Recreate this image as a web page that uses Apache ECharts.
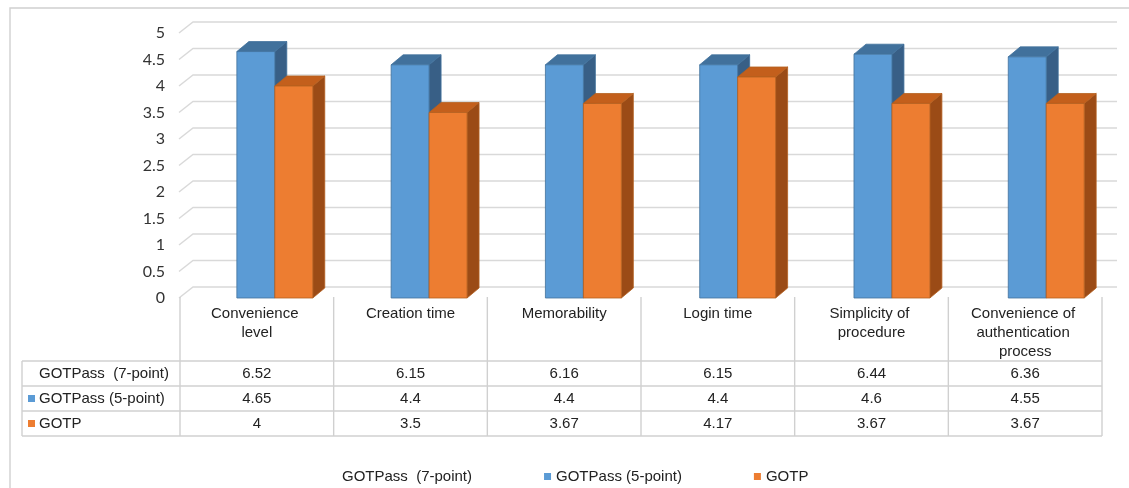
<!DOCTYPE html>
<html>
<head>
<meta charset="utf-8">
<title>GOTPass vs GOTP usability ratings</title>
<script src="https://cdn.jsdelivr.net/npm/echarts@6/dist/echarts.min.js"></script>
<style>
  html, body { margin: 0; padding: 0; background: #fff; }
  #chart { width: 1129px; height: 488px; }
</style>
</head>
<body>
<div id="chart"></div>
<script>
// Usability criteria (one column each)
const categories = [
  'Convenience level',
  'Creation time',
  'Memorability',
  'Login time',
  'Simplicity of procedure',
  'Convenience of authentication process'
];

// Mean ratings per scheme
const gotpass7 = [6.52, 6.15, 6.16, 6.15, 6.44, 6.36];
const gotpass5 = [4.65, 4.4, 4.4, 4.4, 4.6, 4.55];
const gotp = [4, 3.5, 3.67, 4.17, 3.67, 3.67];

// Value-axis ticks drawn on the back wall
const yTicks = [0, 0.5, 1, 1.5, 2, 2.5, 3, 3.5, 4, 4.5, 5];

const seriesNames = ['GOTPass  (7-point)', 'GOTPass (5-point)', 'GOTP'];
const tableRows = [gotpass7, gotpass5, gotp];

const BLUE = { front: '#5B9BD5', top: '#41719C', side: '#385F86', edge: '#41719C' };
const ORANGE = { front: '#ED7D31', top: '#C35F1C', side: '#9B4B16', edge: '#B4601F' };
const GRID_COLOR = '#D9D9D9';
const TABLE_COLOR = '#D0D0D0';
const TEXT_FONT = '"Liberation Sans", Arial, sans-serif';

// depth of the back wall and of each box
const WALL_DX = 14, WALL_DY = -11;
const BOX_DX = 12, BOX_DY = -10;

const chart = echarts.init(document.getElementById('chart'), null, { renderer: 'canvas' });

function renderWall(params, api) {
  const cs = params.coordSys;
  const y = api.coord([0, api.value(1)])[1];
  return {
    type: 'polyline',
    shape: {
      points: [
        [cs.x - 1, y],
        [cs.x + WALL_DX - 1, y + WALL_DY],
        [cs.x + cs.width + WALL_DX + 1, y + WALL_DY]
      ]
    },
    style: { stroke: GRID_COLOR, lineWidth: 1.4, fill: null },
    silent: true
  };
}

function makeBoxRenderer(slot, pal) {
  return function (params, api) {
    const i = api.value(0);
    const v = api.value(1);
    const base = api.coord([i, 0]);
    const top = api.coord([i, v]);
    const band = api.size([1, 0])[0];
    const w = band * 0.247;
    const pairCenter = base[0] + band * (0.117 + 0.004 * i);
    const x = slot === 0 ? pairCenter - w : pairCenter;
    const yt = top[1];
    const yb = base[1];
    const lw = 0.8;
    return {
      type: 'group',
      children: [
        {
          type: 'polygon',
          shape: { points: [[x + w, yt], [x + w + BOX_DX, yt + BOX_DY], [x + w + BOX_DX, yb + BOX_DY], [x + w, yb]] },
          style: { fill: pal.side, stroke: pal.edge, lineWidth: lw }
        },
        {
          type: 'polygon',
          shape: { points: [[x, yt], [x + BOX_DX, yt + BOX_DY], [x + w + BOX_DX, yt + BOX_DY], [x + w, yt]] },
          style: { fill: pal.top, stroke: pal.edge, lineWidth: lw }
        },
        {
          type: 'rect',
          shape: { x: x, y: yt, width: w, height: yb - yt },
          style: { fill: pal.front, stroke: pal.edge, lineWidth: lw }
        }
      ]
    };
  };
}

const option = {
  animation: false,
  backgroundColor: '#fff',
  grid: { left: 180, right: 27, top: 33, bottom: 190, containLabel: false },
  legend: {
    left: 325,
    top: 464,
    itemWidth: 7,
    itemHeight: 7,
    itemGap: 72,
    selectedMode: false,
    textStyle: { fontFamily: TEXT_FONT, fontSize: 15, color: '#222' },
    data: [
      { name: seriesNames[0], icon: 'none' },
      { name: seriesNames[1], icon: 'rect' },
      { name: seriesNames[2], icon: 'rect' }
    ]
  },
  xAxis: {
    type: 'category',
    data: categories,
    axisLine: { show: false },
    axisTick: { show: false },
    splitLine: { show: false },
    axisLabel: {
      interval: 0,
      margin: 6,
      width: 116,
      overflow: 'break',
      fontFamily: TEXT_FONT,
      fontSize: 15,
      lineHeight: 19,
      color: '#222',
      verticalAlign: 'top'
    }
  },
  yAxis: {
    type: 'value',
    min: 0,
    max: 5,
    interval: 0.5,
    axisLine: { show: false },
    axisTick: { show: false },
    splitLine: { show: false },
    axisLabel: {
      margin: 15,
      fontFamily: 'Lato, "Open Sans", sans-serif',
      fontSize: 16,
      color: '#333'
    }
  },
  series: [
    {
      name: 'wall',
      type: 'custom',
      z: 1,
      silent: true,
      renderItem: renderWall,
      data: yTicks.map(function (t) { return [0, t]; })
    },
    {
      // 7-point ratings are listed in the table only
      name: seriesNames[0],
      type: 'custom',
      itemStyle: { color: '#fff' },
      renderItem: function () { return null; },
      data: gotpass7.map(function (v, i) { return [i, v]; })
    },
    {
      name: seriesNames[1],
      type: 'custom',
      z: 3,
      itemStyle: { color: BLUE.front },
      renderItem: makeBoxRenderer(0, BLUE),
      data: gotpass5.map(function (v, i) { return [i, v]; })
    },
    {
      name: seriesNames[2],
      type: 'custom',
      z: 4,
      itemStyle: { color: ORANGE.front },
      renderItem: makeBoxRenderer(1, ORANGE),
      data: gotp.map(function (v, i) { return [i, v]; })
    }
  ]
};

chart.setOption(option);

// Data table under the plot, aligned with the category bands
function buildTable() {
  const gridLeft = chart.convertToPixel({ xAxisIndex: 0 }, 0);
  const c1 = chart.convertToPixel({ xAxisIndex: 0 }, 1);
  const band = c1 - gridLeft;
  const x0 = gridLeft - band / 2;
  const x1 = x0 + band * categories.length;
  const yFloor = chart.convertToPixel({ yAxisIndex: 0 }, 0);
  const headTop = yFloor - 1;
  const rowTop = yFloor + 63;
  const rowH = 25;
  const tableLeft = 22;
  const els = [];
  const line = function (xa, ya, xb, yb) {
    els.push({
      type: 'line', silent: true, z: 10,
      shape: { x1: xa, y1: ya, x2: xb, y2: yb },
      style: { stroke: TABLE_COLOR, lineWidth: 1.4 }
    });
  };
  for (let k = 0; k <= categories.length; k++) {
    const x = x0 + band * k;
    line(x, headTop, x, rowTop + rowH * 3);
  }
  line(tableLeft, rowTop, tableLeft, rowTop + rowH * 3);
  for (let r = 0; r <= 3; r++) {
    line(tableLeft, rowTop + rowH * r, x1, rowTop + rowH * r);
  }
  const keyColors = [null, BLUE.front, ORANGE.front];
  tableRows.forEach(function (row, r) {
    const cy = rowTop + rowH * r + rowH / 2;
    if (keyColors[r]) {
      els.push({
        type: 'rect', silent: true, z: 10,
        shape: { x: 28, y: cy - 3.5, width: 7, height: 7 },
        style: { fill: keyColors[r] }
      });
    }
    els.push({
      type: 'text', silent: true, z: 10,
      x: 39, y: cy,
      style: {
        text: seriesNames[r], fontFamily: TEXT_FONT, fontSize: 15,
        fill: '#222', align: 'left', verticalAlign: 'middle'
      }
    });
    row.forEach(function (v, i) {
      els.push({
        type: 'text', silent: true, z: 10,
        x: x0 + band * (i + 0.5), y: cy,
        style: {
          text: String(v), fontFamily: TEXT_FONT, fontSize: 15,
          fill: '#222', align: 'center', verticalAlign: 'middle'
        }
      });
    });
  });
  // chart frame
  els.push({
    type: 'rect', silent: true, z: 0,
    shape: { x: 10, y: 8, width: 1140, height: 500 },
    style: { fill: null, stroke: TABLE_COLOR, lineWidth: 1.4 }
  });
  chart.setOption({ graphic: { elements: els } });
}

buildTable();
</script>
</body>
</html>
